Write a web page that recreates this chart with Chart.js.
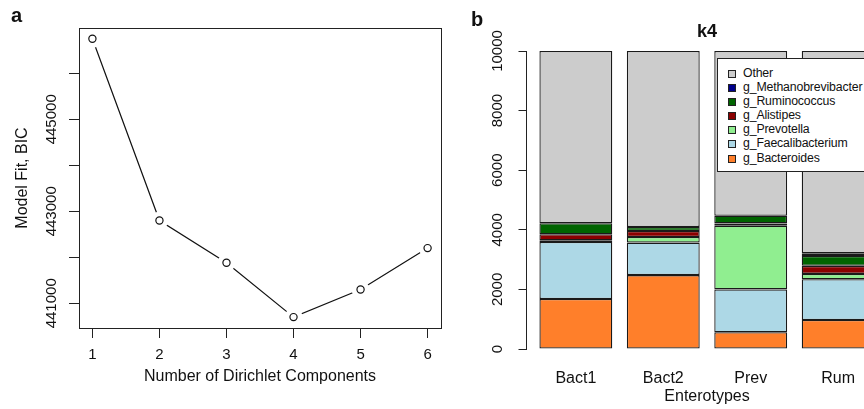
<!DOCTYPE html>
<html>
<head>
<meta charset="utf-8">
<script src="https://cdn.jsdelivr.net/npm/chart.js@4.4.1/dist/chart.umd.min.js"></script>
<style>
  html, body { margin: 0; padding: 0; background: #fff; }
  body { width: 864px; height: 409px; overflow: hidden; position: relative; font-family: "Liberation Sans", Arial, Helvetica, sans-serif; color: #111; }
  canvas { position: absolute; top: 0; }
  #chartBIC { left: 0; }
  #chartK4 { left: 460px; }
  .panel { position: absolute; font-weight: bold; font-size: 20px; line-height: 20px; }
  #legend { position: absolute; left: 717px; top: 58px; width: 190px; height: 114px; background: #fff; border: 1px solid #222; box-sizing: border-box; padding-top: 7px; font-size: 12.3px; letter-spacing: -0.15px; }
  #legend div { height: 14.1px; line-height: 14.1px; padding-left: 10px; white-space: nowrap; }
  #legend span { display: inline-block; width: 8px; height: 8px; border: 1px solid #222; box-sizing: border-box; margin-right: 7px; vertical-align: -1px; }
</style>
</head>
<body>
<canvas id="chartBIC" width="460" height="409"></canvas>
<canvas id="chartK4" width="460" height="409"></canvas>
<div class="panel" style="left:11px; top:5px;">a</div>
<div class="panel" style="left:471px; top:9px;">b</div>
<div id="legend"></div>
<script>
// panel a: BIC per number of components
const components = [1, 2, 3, 4, 5, 6];
const bicValues = [446750, 442800, 441880, 440700, 441300, 442200];
const bicTicks = [441000, 442000, 443000, 444000, 445000, 446000];
const bicTickLabels = ["441000", "", "443000", "", "445000", ""];

// panel b: k4 enterotype composition
const enterotypes = ["Bact1", "Bact2", "Prev", "Rum"];
const bacteroides = [1680, 2480, 560, 975];
const faecalibacterium = [1910, 1090, 1440, 1365];
const prevotella = [60, 190, 2135, 180];
const alistipes = [200, 200, 80, 270];
const ruminococcus = [370, 135, 256, 335];
const methanobrevibacter = [0, 0, 0, 85];
const other = [5780, 5905, 5529, 6790];
const countTicks = [0, 2000, 4000, 6000, 8000, 10000];

const genera = ["g_Bacteroides", "g_Faecalibacterium", "g_Prevotella", "g_Alistipes", "g_Ruminococcus", "g_Methanobrevibacter", "Other"];
const genusColors = ["#ff7f2a", "#add8e6", "#90ee90", "#8b0000", "#006400", "#00008b", "#cccccc"];

const FONT = "'Liberation Sans', Arial, Helvetica, sans-serif";
const INK = "#111";
const LINE = "#222";

const boxPlugin = {
  id: "box",
  afterDraw(chart) {
    const { ctx, chartArea: a } = chart;
    ctx.save();
    ctx.strokeStyle = LINE;
    ctx.lineWidth = 1;
    ctx.strokeRect(a.left + 0.5, a.top + 0.5, a.width, a.height);
    ctx.restore();
  },
};

document.addEventListener("DOMContentLoaded", () => {
  const pts = components.map((c, i) => ({ x: c, y: bicValues[i] }));

  new Chart(document.getElementById("chartBIC"), {
    type: "line",
    data: {
      datasets: [
        { data: pts, showLine: false, pointRadius: 3.6, pointBackgroundColor: "#fff", pointBorderColor: INK, pointBorderWidth: 1.2 },
        // white halo so the line stops short of each point
        { data: pts, showLine: false, pointRadius: 9, pointBackgroundColor: "#fff", pointBorderColor: "#fff", pointBorderWidth: 0 },
        { data: pts, borderColor: INK, borderWidth: 1.2, pointRadius: 0, tension: 0 },
      ],
    },
    options: {
      responsive: false,
      animation: false,
      layout: { padding: { top: 28, right: 19, bottom: 0, left: 0 } },
      plugins: { legend: { display: false }, tooltip: { enabled: false } },
      scales: {
        x: {
          type: "linear",
          min: 0.8,
          max: 6.2,
          afterBuildTicks: (s) => { s.ticks = components.map((v) => ({ value: v })); },
          afterFit: (s) => { s.height = 81; },
          ticks: { color: INK, font: { family: FONT, size: 15 }, padding: 8, callback: (v) => String(v) },
          grid: { display: true, drawOnChartArea: false, drawTicks: true, tickLength: 10, color: LINE },
          border: { display: true, color: LINE },
          title: { display: true, text: "Number of Dirichlet Components", color: INK, font: { family: FONT, size: 16 }, padding: { top: 0, bottom: 22.4 } },
        },
        y: {
          min: 440463,
          max: 446985,
          afterBuildTicks: (s) => { s.ticks = bicTicks.map((v) => ({ value: v })); },
          afterFit: (s) => { s.width = 79; },
          ticks: { color: INK, font: { family: FONT, size: 15 }, minRotation: 90, maxRotation: 90, crossAlign: "center", padding: -7.5, callback: (v, i) => bicTickLabels[i] },
          grid: { display: true, drawOnChartArea: false, drawTicks: true, tickLength: 10, color: LINE },
          border: { display: true, color: LINE },
          title: { display: true, text: "Model Fit, BIC", color: INK, font: { family: FONT, size: 16 }, padding: { top: 13.4, bottom: 0 } },
        },
      },
    },
    plugins: [boxPlugin],
  });

  const barX = enterotypes.map((_, i) => 0.7 + 1.2 * i);
  const series = [bacteroides, faecalibacterium, prevotella, alistipes, ruminococcus, methanobrevibacter, other];

  new Chart(document.getElementById("chartK4"), {
    type: "bar",
    data: {
      datasets: series.map((vals, k) => ({
        label: genera[k],
        data: vals.map((v, i) => ({ x: barX[i], y: v })),
        backgroundColor: genusColors[k],
        borderColor: "#1a1a1a",
        borderWidth: 1.3,
        borderSkipped: false,
        categoryPercentage: 1,
        barPercentage: 1 / 1.2,
      })),
    },
    options: {
      responsive: false,
      animation: false,
      layout: { padding: { top: 0, right: 32, bottom: 0, left: 0 } },
      plugins: {
        legend: { display: false },
        tooltip: { enabled: false },
        title: { display: true, text: "k4", fullSize: false, color: INK, font: { family: FONT, size: 18, weight: "bold" }, padding: { top: 21, bottom: 8.4 } },
      },
      scales: {
        x: {
          type: "linear",
          min: 0.016,
          max: 4.984,
          stacked: true,
          offset: false,
          afterBuildTicks: (s) => { s.ticks = barX.map((v) => ({ value: v })); },
          afterFit: (s) => { s.height = 60; },
          ticks: { color: INK, font: { family: FONT, size: 16 }, padding: 11.5, callback: (v, i) => enterotypes[i] },
          grid: { display: false, offset: false },
          border: { display: false },
          title: { display: true, text: "Enterotypes", color: INK, font: { family: FONT, size: 16 }, padding: { top: 0, bottom: 2.5 } },
        },
        y: {
          min: 0,
          max: 10000,
          stacked: true,
          afterBuildTicks: (s) => { s.ticks = countTicks.map((v) => ({ value: v })); },
          afterFit: (s) => { s.width = 66; },
          ticks: { color: INK, font: { family: FONT, size: 15 }, minRotation: 90, maxRotation: 90, crossAlign: "center", padding: -0.5, callback: (v) => String(v) },
          grid: { display: true, drawOnChartArea: false, drawTicks: true, tickLength: 7.5, color: LINE },
          border: { display: true, color: LINE },
        },
      },
    },
  });

  // legend drawn over the plot, top entry first like the original
  const legend = document.getElementById("legend");
  for (let k = genera.length - 1; k >= 0; k--) {
    const row = document.createElement("div");
    const sw = document.createElement("span");
    sw.style.background = genusColors[k];
    row.appendChild(sw);
    row.appendChild(document.createTextNode(genera[k]));
    legend.appendChild(row);
  }
});
</script>
</body>
</html>
